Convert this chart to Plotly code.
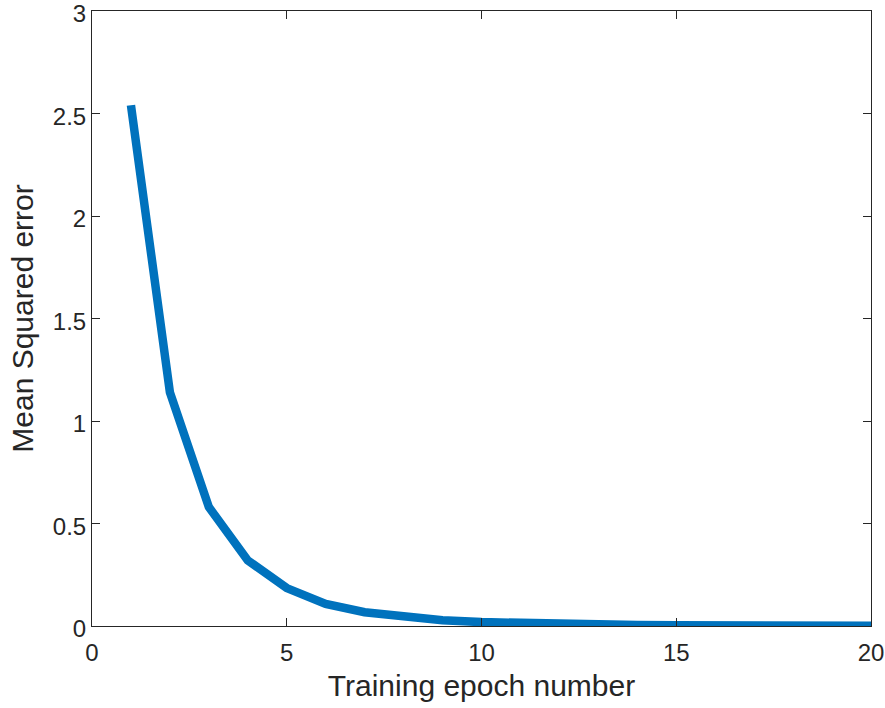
import plotly.graph_objects as go

# Training history: mean squared error per epoch
epochs = list(range(1, 21))
mse = [2.54, 1.14, 0.58, 0.32, 0.185, 0.108, 0.067, 0.043, 0.028, 0.019,
       0.013, 0.009, 0.006, 0.0045, 0.0032, 0.0023, 0.0017, 0.0012, 0.0009, 0.0007]

x_ticks = [0, 5, 10, 15, 20]
y_ticks = [0, 0.5, 1, 1.5, 2, 2.5, 3]
y_tick_text = ["0", "0.5", "1", "1.5", "2", "2.5", "3"]

axis_color = "#262626"
font_family = "Liberation Sans, Arial, sans-serif"

fig = go.Figure()
fig.add_trace(go.Scatter(
    x=epochs, y=mse, mode="lines",
    line=dict(color="#0072BD", width=8.5),
    showlegend=False,
))

common_axis = dict(
    showgrid=False, zeroline=False, automargin=False,
    ticklabeloverflow="allow",
    showline=True, linecolor=axis_color, linewidth=1, mirror="ticks",
    ticks="inside", ticklen=8, tickwidth=1, tickcolor=axis_color,
    tickfont=dict(family=font_family, size=24, color=axis_color),
)

fig.update_xaxes(
    range=[0, 20], tickvals=x_ticks, ticklabelstandoff=5,
    title=dict(text="Training epoch number", standoff=10,
               font=dict(family=font_family, size=30, color=axis_color)),
    **common_axis,
)
fig.update_yaxes(
    range=[0, 3], tickvals=y_ticks, ticktext=y_tick_text, ticklabelshift=3,
    title=dict(text="Mean Squared error", standoff=10,
               font=dict(family=font_family, size=30, color=axis_color)),
    **common_axis,
)

fig.update_layout(
    width=885, height=708,
    margin=dict(l=92, r=14, t=11, b=82),
    paper_bgcolor="white", plot_bgcolor="white",
)

fig.write_html("out.html")
